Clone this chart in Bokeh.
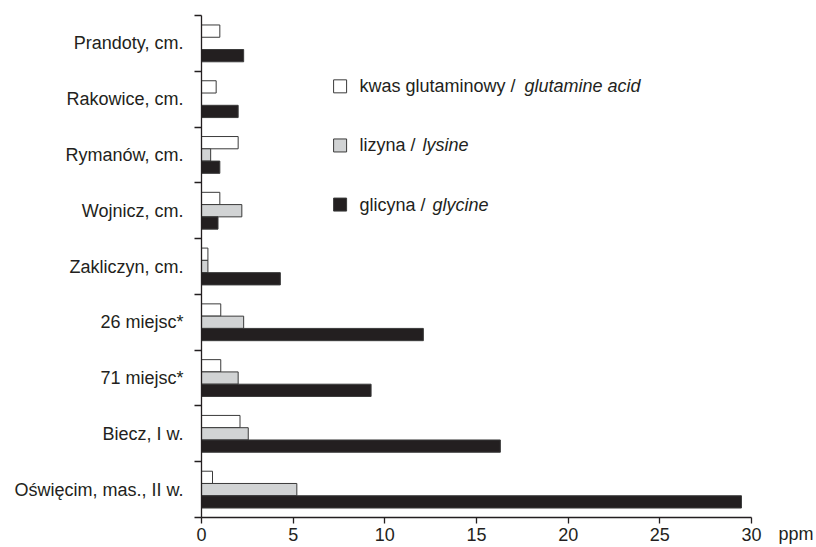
from bokeh.plotting import figure
from bokeh.models import Range1d, FixedTicker, ColumnDataSource, LinearAxis
from bokeh.embed import file_html
from bokeh.resources import INLINE
from bokeh.core.properties import value

# ---- data (top to bottom as in the chart) ----
sites = ["Prandoty, cm.", "Rakowice, cm.", "Rymanów, cm.", "Wojnicz, cm.",
         "Zakliczyn, cm.", "26 miejsc*", "71 miejsc*", "Biecz, I w.",
         "Oświęcim, mas., II w."]
glutamine = [1.0, 0.8, 2.0, 1.0, 0.35, 1.05, 1.05, 2.1, 0.6]
lysine = [0.0, 0.0, 0.5, 2.2, 0.35, 2.3, 2.0, 2.55, 5.2]
glycine = [2.3, 2.0, 1.0, 0.9, 4.3, 12.1, 9.25, 16.3, 29.45]
x_ticks = [0, 5, 10, 15, 20, 25, 30]
legend_regular = ["kwas glutaminowy / ", "lizyna / ", "glicyna / "]
legend_italic = ["glutamine acid", "lysine", "glycine"]
unit_label = "ppm"

FONT = "Liberation Sans"
INK = "#231f20"
BAR = 0.22
n = len(sites)
centers = [n - i - 0.5 for i in range(n)]
x_max = 30
x_view_end = 33.38   # frame runs on past 30 so the unit label fits beside it
unit_pos = 32.42

p = figure(width=816, height=547, output_backend="svg", toolbar_location=None,
           x_range=Range1d(0, x_view_end), y_range=Range1d(0, n),
           min_border_left=201, min_border_right=3, min_border_top=15,
           min_border_bottom=30)
p.outline_line_color = None
p.grid.visible = False

fills = ["#ffffff", "#d1d3d4", INK]
offsets = [BAR, 0.0, -BAR]
for vals, fill, off in zip([glutamine, lysine, glycine], fills, offsets):
    src = ColumnDataSource(dict(y=[c + off for c in centers], right=vals))
    p.hbar(y="y", left=0, right="right", height=BAR, source=src,
           fill_color=fill, line_color="#3a3a3a", line_width=1)

# x axis (line, ticks and labels from 0 to 30)
xa = p.xaxis[0]
xa.ticker = FixedTicker(ticks=x_ticks)
xa.bounds = (0, x_max)
xa.major_tick_in = 0
xa.major_tick_out = 6
xa.minor_tick_out = 0
xa.axis_line_color = INK
xa.major_tick_line_color = INK
xa.axis_line_width = 1.3
xa.major_tick_line_width = 1.3
xa.major_label_text_font = FONT
xa.major_label_text_font_size = "18px"
xa.major_label_text_color = INK
xa.major_label_standoff = 4

# unit label beside the end of the x axis, on an unlined second axis
# pulled up into the tick-label row
xl = LinearAxis(ticker=FixedTicker(ticks=[unit_pos]))
xl.major_label_overrides = {unit_pos: unit_label}
xl.axis_line_color = None
xl.major_tick_line_color = None
xl.minor_tick_line_color = None
xl.major_tick_in = 0
xl.major_tick_out = 0
xl.minor_tick_in = 0
xl.minor_tick_out = 0
xl.major_label_standoff = -20
xl.major_label_text_font = FONT
xl.major_label_text_font_size = "18px"
xl.major_label_text_color = INK
p.add_layout(xl, "below")

# y axis: labels at centers, ticks at boundaries
ya = p.yaxis[0]
ya.ticker = FixedTicker(ticks=centers, minor_ticks=list(range(n + 1)))
ya.major_label_overrides = {c: s for c, s in zip(centers, sites)}
ya.major_tick_in = 0
ya.major_tick_out = 0
ya.minor_tick_in = 0
ya.minor_tick_out = 7
ya.axis_line_color = INK
ya.minor_tick_line_color = INK
ya.axis_line_width = 1.3
ya.minor_tick_line_width = 1.3
ya.major_label_text_font = FONT
ya.major_label_text_font_size = "18px"
ya.major_label_text_color = INK
ya.major_label_standoff = 11

# legend (drawn manually to allow mixed regular/italic text)
leg_y = [7.73, 6.67, 5.61]
leg_src = ColumnDataSource(dict(
    x=[7.56] * 3, tx=[8.62] * 3, y=leg_y,
    fill=fills, reg=legend_regular, ita=legend_italic,
    dx=[165, 63, 73]))
p.scatter(x="x", y="y", source=leg_src, marker="square", size=13,
          fill_color="fill", line_color="#3a3a3a", line_width=1)
p.text(x="tx", y="y", text="reg", source=leg_src, text_font=value(FONT),
       text_font_size="18px", text_color=INK, text_baseline="middle")
p.text(x="tx", y="y", text="ita", source=leg_src, x_offset="dx",
       text_font=value(FONT), text_font_size="18px", text_font_style="italic",
       text_color=INK, text_baseline="middle")

open("out.html", "w").write(file_html(p, INLINE))
